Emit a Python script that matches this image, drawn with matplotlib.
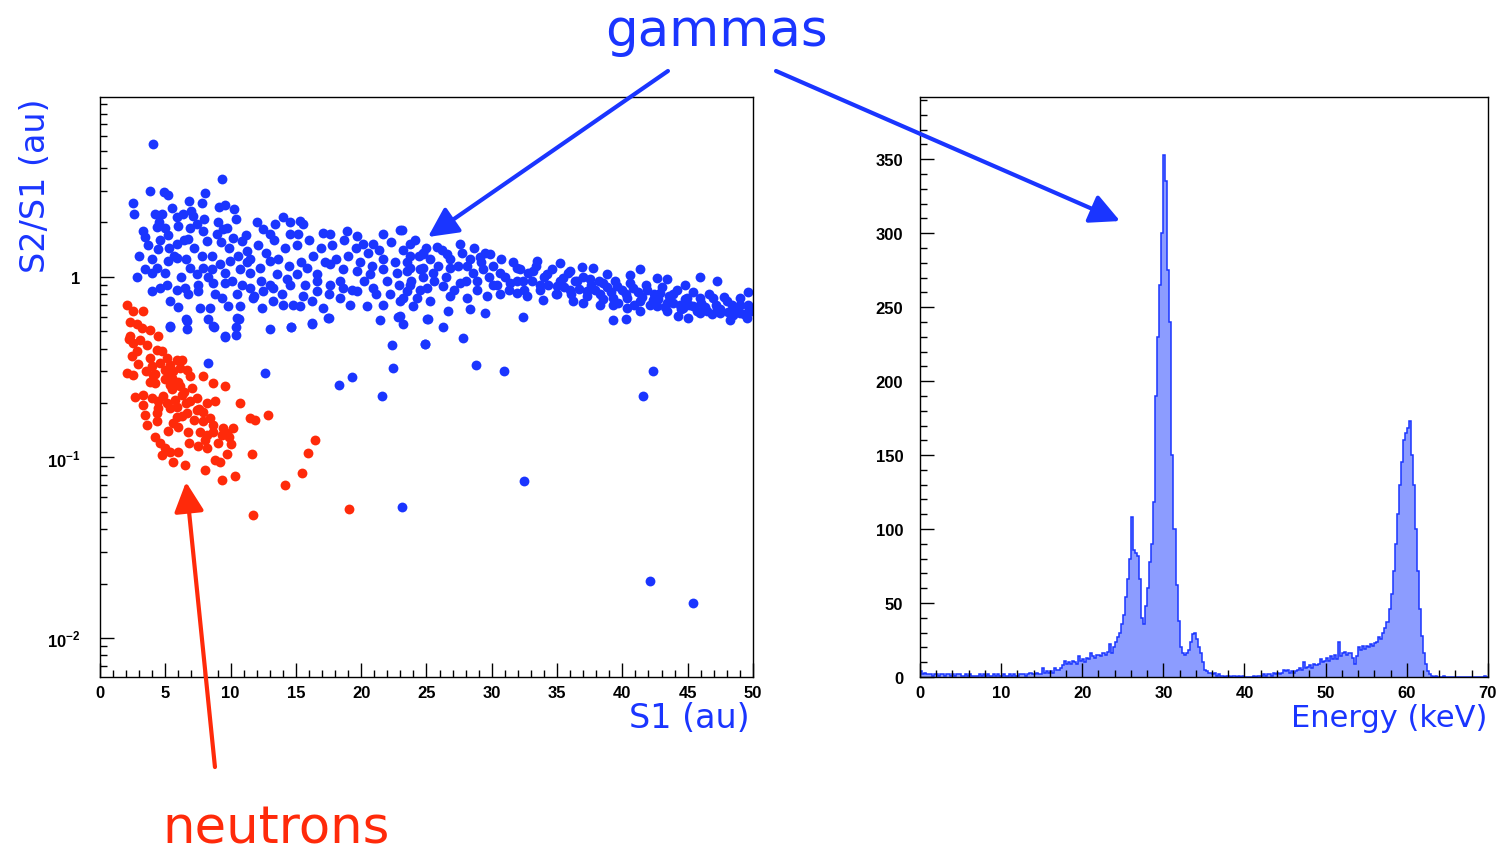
import numpy as np
import matplotlib.pyplot as plt
from matplotlib.patches import FancyArrowPatch
from matplotlib.ticker import MultipleLocator, FixedLocator, NullFormatter

plt.rcParams["font.family"] = ["Liberation Sans", "DejaVu Sans"]
plt.rcParams["mathtext.fontset"] = "custom"
plt.rcParams["mathtext.bf"] = "Liberation Sans:bold"
plt.rcParams["mathtext.rm"] = "Liberation Sans:bold"

# ─── S2/S1 vs S1 : (S1 [au], S2/S1 [au]) pairs ───────────────────────────────

gamma_band_low = [
    (4.03, 5.43), (9.37, 3.47), (3.83, 2.99), (4.90, 2.93), (5.18, 2.84), (8.04, 2.92),
    (2.50, 2.55), (2.63, 2.22), (6.81, 2.63), (7.78, 2.55), (9.14, 2.42), (9.57, 2.50),
    (10.26, 2.37), (4.21, 2.22), (4.77, 2.24), (5.87, 2.13), (6.38, 2.22), (7.15, 2.17),
    (3.45, 1.67), (4.34, 1.89), (4.98, 1.87), (4.47, 1.42), (5.31, 1.45), (5.87, 1.51),
    (6.89, 1.87), (7.40, 1.95), (6.76, 1.61), (7.91, 1.79), (8.17, 1.58), (8.93, 1.72),
    (9.44, 1.83), (9.70, 1.87), (10.21, 1.65), (10.85, 1.58), (11.23, 1.39), (12.0, 2.0),
    (12.51, 1.83), (13.40, 1.95), (13.99, 2.14), (14.55, 2.0), (15.31, 2.04), (15.57, 1.95),
    (11.23, 1.20), (13.02, 1.72), (14.55, 1.72), (15.19, 1.72), (17.10, 1.74), (17.61, 1.72),
    (18.89, 1.79), (19.65, 1.68), (20.16, 1.51), (20.93, 1.51), (21.69, 1.72), (22.97, 1.81),
    (23.74, 1.51), (24.76, 1.33), (2.81, 1.0), (3.45, 1.10), (3.96, 1.05), (4.34, 1.12),
    (5.23, 1.22), (5.87, 1.27), (6.89, 1.12), (7.40, 1.03), (7.91, 1.12), (8.55, 1.10),
    (9.19, 1.17), (9.95, 1.22), (10.72, 1.10), (11.49, 1.05), (12.25, 1.12), (13.02, 1.22),
    (13.53, 1.03), (14.29, 0.966), (15.06, 1.03), (15.82, 1.12), (16.59, 1.03), (17.61, 1.17),
    (18.63, 1.10), (19.65, 1.075), (20.67, 1.03), (21.69, 1.10), (22.72, 1.05), (23.74, 1.12),
    (24.76, 1.12), (3.96, 0.833), (4.59, 0.869), (5.10, 0.906), (5.87, 0.850), (6.51, 0.869),
    (7.53, 0.833), (8.68, 0.926), (9.57, 0.926), (10.46, 0.798), (11.49, 0.869), (12.51, 0.833),
    (13.27, 0.869), (14.55, 0.906), (15.57, 0.781), (16.59, 0.833), (17.61, 0.906), (18.63, 0.869),
    (19.65, 0.833), (20.93, 0.869), (22.21, 0.798), (23.48, 0.833), (24.50, 0.850), (5.36, 0.732),
    (6.0, 0.679), (6.76, 0.798), (7.66, 0.673), (8.42, 0.673), (9.32, 0.764), (9.83, 0.687),
    (10.72, 0.687), (11.74, 0.764), (12.38, 0.673), (13.27, 0.732), (14.04, 0.702), (15.31, 0.687),
    (16.21, 0.732), (17.10, 0.673), (18.38, 0.764), (19.14, 0.702), (20.42, 0.687), (21.69, 0.702),
    (22.97, 0.732), (23.99, 0.687), (5.36, 0.532), (6.64, 0.572), (6.64, 0.516), (8.29, 0.587),
    (8.68, 0.537), (9.57, 0.466), (10.39, 0.525), (10.39, 0.478), (10.64, 0.587), (13.02, 0.516),
    (14.62, 0.528), (16.21, 0.553), (17.48, 0.592), (21.44, 0.575), (22.84, 0.597), (25.01, 0.580),
    (3.0, 1.3), (3.3, 1.8), (3.7, 1.5), (4.0, 1.25), (4.5, 2.0), (4.6, 1.6), (5.0, 1.05),
    (5.2, 1.7), (5.5, 2.4), (5.7, 1.3), (6.0, 1.9), (6.2, 1.0), (6.4, 1.6), (6.6, 1.25),
    (7.0, 2.3), (7.2, 1.45), (7.5, 0.9), (7.8, 1.3), (8.0, 2.1), (8.3, 1.0), (8.6, 1.3),
    (8.8, 0.8), (9.0, 2.0), (9.3, 1.55), (9.6, 1.05), (9.9, 1.45), (10.1, 0.95), (10.4, 2.1),
    (10.6, 1.3), (10.9, 0.9), (11.2, 1.7), (11.5, 1.25), (11.8, 0.78), (12.1, 1.5), (12.3, 0.95),
    (12.7, 1.35), (13.0, 0.9), (13.3, 1.6), (13.6, 1.25), (13.9, 0.8), (14.2, 1.45), (14.5, 1.15),
    (14.8, 0.7), (15.1, 1.5), (15.4, 1.2), (15.7, 0.9), (16.0, 1.6), (16.3, 1.3), (16.6, 0.95),
    (16.9, 1.45), (17.2, 1.2), (17.5, 0.8), (17.8, 1.5), (18.1, 1.25), (18.4, 0.95), (18.7, 1.6),
    (19.0, 1.3), (19.3, 0.85), (19.6, 1.45), (19.9, 1.2), (20.2, 0.95), (20.5, 1.35), (20.8, 1.15),
    (21.1, 0.8), (21.4, 1.4), (21.7, 1.25), (22.0, 0.95), (22.3, 1.55), (22.6, 1.2), (22.9, 0.9),
    (23.2, 1.4), (23.5, 1.2), (23.8, 0.95), (24.1, 1.6), (24.4, 1.3), (24.7, 1.0), (25.0, 1.45),
]

gamma_band_high = [
    (23.10, 1.82), (27.56, 1.51), (28.64, 1.44), (25.78, 1.46), (26.54, 1.34), (24.76, 1.36),
    (23.74, 1.30), (29.10, 1.28), (29.86, 1.34), (33.49, 1.23), (35.22, 1.19), (36.88, 1.14),
    (37.77, 1.12), (41.35, 1.11), (45.94, 1.0), (47.22, 0.946), (49.64, 0.827), (43.39, 0.966),
    (44.79, 0.90), (42.62, 0.98), (38.79, 1.03), (40.58, 1.02), (35.99, 1.07),
    (23.48, 1.075), (24.50, 1.10), (25.52, 1.05), (26.80, 1.12), (28.07, 1.15), (29.35, 1.10),
    (30.63, 1.05), (31.90, 1.12), (33.18, 1.075), (34.20, 1.03), (35.48, 0.987), (36.50, 0.946),
    (37.52, 0.966), (38.54, 0.926), (39.56, 0.888), (40.84, 0.869), (41.86, 0.850), (42.88, 0.815),
    (43.90, 0.798), (44.92, 0.764), (45.94, 0.764), (46.96, 0.764), (47.98, 0.732), (49.0, 0.702),
    (49.64, 0.687), (23.74, 0.906), (25.01, 0.869), (26.29, 0.888), (27.56, 0.926), (28.84, 0.946),
    (30.12, 0.906), (31.39, 0.926), (32.41, 0.946), (33.69, 0.906), (34.97, 0.888), (35.99, 0.850),
    (37.26, 0.833), (38.28, 0.798), (39.30, 0.764), (40.33, 0.764), (41.35, 0.732), (42.37, 0.748),
    (43.39, 0.717), (44.41, 0.702), (45.43, 0.687), (46.45, 0.645), (47.47, 0.631), (48.49, 0.617),
    (49.51, 0.592), (23.23, 0.764), (24.25, 0.764), (25.27, 0.732), (26.80, 0.781), (28.07, 0.764),
    (29.61, 0.781), (30.63, 0.798), (31.90, 0.815), (32.67, 0.781), (33.94, 0.748), (34.97, 0.798),
    (36.24, 0.732), (37.01, 0.717), (38.28, 0.702), (39.30, 0.702), (40.33, 0.673), (41.35, 0.645),
    (42.62, 0.687), (43.39, 0.645), (44.66, 0.673), (45.94, 0.631), (47.22, 0.673), (48.24, 0.579),
    (49.0, 0.631),
    (25.3, 1.25), (25.6, 0.95), (25.9, 1.15), (26.2, 1.4), (26.5, 1.0), (26.8, 1.25), (27.1, 0.85),
    (27.4, 1.15), (27.7, 1.35), (28.0, 0.95), (28.3, 1.25), (28.6, 1.05), (28.9, 0.85), (29.2, 1.2),
    (29.5, 1.35), (29.8, 1.0), (30.1, 1.15), (30.4, 0.9), (30.7, 1.25), (31.0, 1.0), (31.3, 0.85),
    (31.6, 1.2), (31.9, 0.95), (32.2, 1.1), (32.5, 0.85), (32.8, 1.05), (33.1, 0.95), (33.4, 1.15),
    (33.7, 0.85), (34.0, 1.0), (34.3, 0.9), (34.6, 1.1), (34.9, 0.8), (35.2, 0.95), (35.5, 0.88),
    (35.8, 1.05), (36.1, 0.8), (36.4, 0.95), (36.7, 0.86), (37.0, 1.0), (37.3, 0.78), (37.6, 0.9),
    (37.9, 0.85), (38.2, 0.95), (38.5, 0.75), (38.8, 0.88), (39.1, 0.82), (39.4, 0.95), (39.7, 0.72),
    (40.0, 0.85), (40.3, 0.8), (40.6, 0.92), (40.9, 0.7), (41.2, 0.82), (41.5, 0.77), (41.8, 0.9),
    (42.1, 0.7), (42.4, 0.8), (42.7, 0.75), (43.0, 0.88), (43.3, 0.68), (43.6, 0.78), (43.9, 0.72),
    (44.2, 0.85), (44.5, 0.66), (44.8, 0.75), (45.1, 0.7), (45.4, 0.82), (45.7, 0.65), (46.0, 0.72),
    (46.3, 0.68), (46.6, 0.8), (46.9, 0.62), (47.2, 0.7), (47.5, 0.66), (47.8, 0.77), (48.1, 0.64),
    (48.4, 0.7), (48.7, 0.66), (49.0, 0.76), (49.3, 0.62), (49.6, 0.7), (49.9, 0.65),
]

gamma_outliers = [
    (8.29, 0.333), (12.63, 0.293), (18.33, 0.252), (19.27, 0.278), (22.46, 0.312), (22.33, 0.421),
    (24.89, 0.426), (22.97, 0.605), (25.14, 0.58), (26.67, 0.645), (28.33, 0.66), (29.48, 0.627),
    (32.41, 0.598), (39.3, 0.573), (40.27, 0.585), (44.28, 0.605), (45.05, 0.593), (26.29, 0.525),
    (24.88, 0.426), (27.82, 0.458), (28.77, 0.326), (30.93, 0.30), (42.37, 0.30), (41.6, 0.22),
    (21.6, 0.22), (23.2, 0.55), (5.36, 0.53), (6.6, 0.58), (8.7, 0.53), (9.6, 0.47), (10.5, 0.59),
    (14.6, 0.53), (16.2, 0.55), (17.5, 0.59), (23.1, 0.053), (32.5, 0.074), (42.1, 0.0207),
    (45.4, 0.0156),
]

neutron_pts = [
    (2.04, 0.70), (2.55, 0.644), (3.32, 0.65), (3.19, 0.52), (3.83, 0.51), (2.30, 0.468),
    (3.06, 0.448), (4.47, 0.468), (2.55, 0.43), (2.42, 0.362), (2.81, 0.386), (3.83, 0.355),
    (2.04, 0.293), (2.55, 0.287), (4.34, 0.395), (4.72, 0.386), (5.11, 0.355), (4.59, 0.333),
    (5.36, 0.326), (5.87, 0.347), (6.25, 0.347), (4.98, 0.306), (5.62, 0.299), (6.13, 0.312),
    (6.64, 0.306), (6.89, 0.281), (5.49, 0.275), (6.0, 0.263), (4.08, 0.287), (4.21, 0.258),
    (5.36, 0.252), (6.13, 0.247), (7.02, 0.242), (7.91, 0.281), (8.68, 0.258), (9.57, 0.247),
    (2.68, 0.217), (3.32, 0.222), (3.96, 0.213), (4.47, 0.204), (5.11, 0.2), (5.74, 0.208),
    (6.25, 0.222), (6.89, 0.204), (7.40, 0.213), (8.17, 0.2), (8.81, 0.204), (3.32, 0.195),
    (4.47, 0.187), (5.36, 0.187), (7.40, 0.183), (7.91, 0.179), (3.45, 0.172), (4.34, 0.175),
    (5.87, 0.168), (6.64, 0.175), (7.91, 0.158), (8.68, 0.151), (9.44, 0.145), (9.70, 0.136),
    (10.21, 0.145), (10.72, 0.2), (11.49, 0.165), (11.87, 0.161), (12.89, 0.172), (3.57, 0.151),
    (4.34, 0.158), (6.0, 0.148), (6.76, 0.139), (7.66, 0.139), (8.17, 0.133), (8.68, 0.139),
    (9.32, 0.133), (4.21, 0.130), (4.59, 0.120), (4.98, 0.112), (5.36, 0.107), (6.0, 0.107),
    (4.72, 0.103), (5.62, 0.0946), (6.51, 0.0906), (8.04, 0.125), (8.17, 0.112), (8.81, 0.0966),
    (9.19, 0.0946), (9.70, 0.105), (11.61, 0.105), (8.04, 0.085), (9.32, 0.0748), (10.34, 0.079),
    (14.17, 0.0702), (15.44, 0.0815), (15.95, 0.106), (16.46, 0.124), (11.7, 0.048), (19.1, 0.0515),
    (2.2, 0.45), (2.9, 0.33), (3.5, 0.30), (4.0, 0.32), (5.0, 0.27), (5.5, 0.24), (6.4, 0.23),
    (4.8, 0.22), (5.9, 0.19), (6.3, 0.17), (7.2, 0.16), (5.2, 0.14), (5.6, 0.155), (6.8, 0.12),
    (7.5, 0.115), (3.8, 0.26), (2.3, 0.56), (2.8, 0.55), (3.6, 0.42), (4.2, 0.29), (5.3, 0.28),
    (6.6, 0.2), (7.6, 0.185), (8.4, 0.165), (9.0, 0.12), (9.9, 0.13), (10.0, 0.118),
]

# ─── Energy spectrum: counts per 0.25 keV bin, one row per keV ───────────────

bin_width = 0.25
counts = [
    4, 2, 3, 2,   2, 2, 1, 2,   2, 1, 2, 2,   1, 2, 2, 1,   2, 1, 2, 2,      # 0-4
    1, 1, 2, 1,   2, 1, 1, 1,   1, 2, 1, 2,   1, 2, 1, 1,   2, 1, 2, 1,      # 5-9
    1, 2, 1, 1,   2, 1, 2, 1,   1, 2, 2, 2,   1, 2, 3, 2,   2, 3, 2, 2,      # 10-14
    6, 3, 4, 3,   4, 3, 6, 5,   5, 6, 8, 11,  9, 10, 9, 11, 10, 9, 14, 11,   # 15-19
    12, 10, 13, 12,  16, 14, 13, 15,  15, 14, 16, 15,  17, 22, 16, 20,
    24, 27, 30, 36,                                                        # 20-24
    42, 54, 66, 80,  108, 86, 84, 82,  66, 40, 36, 48,  60, 78, 90, 118,
    190, 230, 265, 300,                                                    # 25-29
    353, 335, 275, 240,  150, 100, 62, 38,  20, 16, 15, 16,  18, 24, 29, 30,
    26, 20, 16, 10,                                                        # 30-34
    5, 4, 3, 3,   2, 3, 1, 2,   1, 1, 0, 1,   1, 0, 1, 1,   0, 1, 0, 1,      # 35-39
    0, 0, 0, 0,   1, 0, 1, 1,   1, 2, 1, 2,   2, 1, 3, 2,   3, 2, 3, 5,      # 40-44
    4, 5, 3, 4,   3, 4, 5, 6,   5, 10, 6, 7,  8, 6, 9, 8,   9, 12, 10, 11,   # 45-49
    13, 11, 14, 12,  15, 12, 24, 14,  16, 17, 15, 16,  16, 13, 9, 14,
    20, 18, 21, 19,                                                        # 50-54
    21, 20, 22, 21,  23, 24, 27, 26,  30, 33, 37, 46,  56, 72, 90, 110,
    130, 145, 160, 165,                                                    # 55-59
    168, 173, 150, 130,  100, 72, 46, 28,  16, 9, 4, 2,  1, 0, 1, 0,
    0, 0, 1, 0,                                                            # 60-64
    0, 0, 0, 0,   0, 0, 0, 0,   0, 0, 0, 0,   0, 0, 0, 0,   0, 0, 1, 0,      # 65-69
]

BLUE = "#1a35ff"
RED = "#ff2a0a"


def unzip(pts):
    return np.array([p[0] for p in pts]), np.array([p[1] for p in pts])


def root_ticks(ax):
    ax.tick_params(which="both", direction="in", top=False, right=False,
                   labelsize=12, width=1.0, colors="black")
    ax.tick_params(which="major", length=10, pad=6)
    ax.tick_params(which="minor", length=5)
    for lab in ax.get_xticklabels() + ax.get_yticklabels():
        lab.set_fontweight("bold")
    for sp in ax.spines.values():
        sp.set_linewidth(1.0)


fig = plt.figure(figsize=(14.99, 8.53), dpi=100)

# ─── left: scatter ───────────────────────────────────────────────────────────
ax1 = fig.add_axes([0.0667, 0.2051, 0.4356, 0.6800])
gx1, gy1 = unzip(gamma_band_low)
gx2, gy2 = unzip(gamma_band_high)
gx3, gy3 = unzip(gamma_outliers)
nx, ny = unzip(neutron_pts)
for xs, ys in ((gx1, gy1), (gx2, gy2), (gx3, gy3)):
    ax1.scatter(xs, ys, s=50, color=BLUE, marker="o", linewidths=0)
ax1.scatter(nx, ny, s=50, color=RED, marker="o", linewidths=0)

ax1.set_yscale("log")
ax1.set_xlim(0, 50)
ax1.set_ylim(0.00607, 9.9)
ax1.xaxis.set_major_locator(MultipleLocator(5))
ax1.xaxis.set_minor_locator(MultipleLocator(1))
ax1.yaxis.set_major_locator(FixedLocator([0.01, 0.1, 1]))
ax1.set_yticklabels([r"$10^{-2}$", r"$10^{-1}$", "1"])
minors = [m * d for d in (0.001, 0.01, 0.1, 1) for m in range(2, 10)]
ax1.yaxis.set_minor_locator(FixedLocator(minors))
ax1.yaxis.set_minor_formatter(NullFormatter())
root_ticks(ax1)
ax1.tick_params(axis="y", which="major", pad=14)

# ─── right: energy histogram ─────────────────────────────────────────────────
ax2 = fig.add_axes([0.6137, 0.2051, 0.3789, 0.6800])
edges = np.arange(len(counts) + 1) * bin_width
ax2.stairs(counts, edges, fill=True, facecolor="#8c9cff", edgecolor="none")
ax2.stairs(counts, edges, color=BLUE, linewidth=1.1)
ax2.set_xlim(0, 70)
ax2.set_ylim(0, 392)
ax2.xaxis.set_major_locator(MultipleLocator(10))
ax2.xaxis.set_minor_locator(MultipleLocator(2))
ax2.yaxis.set_major_locator(MultipleLocator(50))
ax2.yaxis.set_minor_locator(MultipleLocator(10))
root_ticks(ax2)
ax2.tick_params(axis="y", which="major", pad=12)

# ─── axis titles and annotations ─────────────────────────────────────────────
lab_kw = dict(color=BLUE, fontsize=24, family="DejaVu Sans")
fig.text(0.5003, 0.158, "S1 (au)", ha="right", va="center", **lab_kw)
fig.text(0.992, 0.158, "Energy (keV)", ha="right", va="center", fontsize=22,
         color=BLUE, family="DejaVu Sans")
fig.text(0.024, 0.884, "S2/S1 (au)", rotation=90, ha="center", va="top", **lab_kw)

fig.text(0.478, 0.962, "gammas", color=BLUE, fontsize=37, ha="center", va="center",
         family="DejaVu Sans")
fig.text(0.184, 0.028, "neutrons", color=RED, fontsize=37, ha="center", va="center",
         family="DejaVu Sans")

arrows = [
    ((0.4456, 0.9156), (0.2855, 0.7210), BLUE),
    ((0.5177, 0.9156), (0.7472, 0.7397), BLUE),
    ((0.1434, 0.0996), (0.1241, 0.4338), RED),
]
for start, end, col in arrows:
    fig.patches.append(FancyArrowPatch(start, end, transform=fig.transFigure,
                                       arrowstyle="-|>", mutation_scale=45,
                                       linewidth=3, color=col, shrinkA=0, shrinkB=0))

fig.savefig("out.png", dpi=100)
